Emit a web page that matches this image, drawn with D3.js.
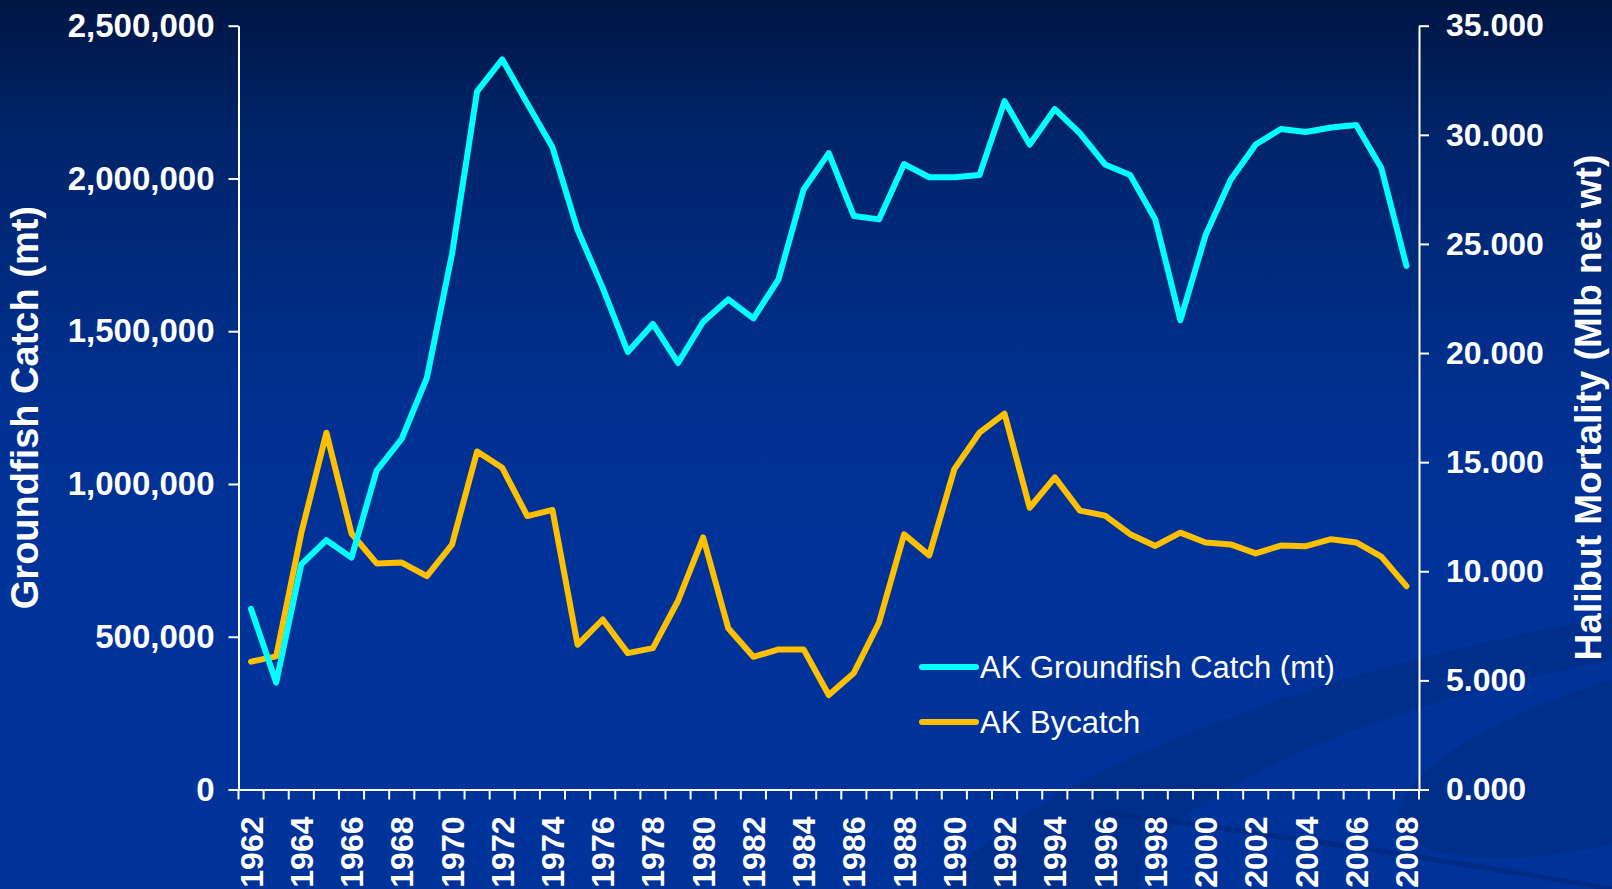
<!DOCTYPE html>
<html>
<head>
<meta charset="utf-8">
<script src="https://cdn.jsdelivr.net/npm/d3@7"></script>
<style>
  html, body { margin: 0; padding: 0; background: #003399; }
  svg { display: block; font-family: "Liberation Sans", Arial, sans-serif; }
</style>
</head>
<body>
<div id="chart"></div>
<script>
// years on the category axis
var years = [1962, 1963, 1964, 1965, 1966, 1967, 1968, 1969, 1970, 1971,
  1972, 1973, 1974, 1975, 1976, 1977, 1978, 1979, 1980, 1981,
  1982, 1983, 1984, 1985, 1986, 1987, 1988, 1989, 1990, 1991,
  1992, 1993, 1994, 1995, 1996, 1997, 1998, 1999, 2000, 2001,
  2002, 2003, 2004, 2005, 2006, 2007, 2008];

// AK Groundfish Catch (mt) - left axis
var groundfishCatch = [591000, 350000, 737000, 816000, 759000, 1044000, 1148000, 1347000, 1752000, 2285000,
  2390000, 2245000, 2102000, 1832000, 1642000, 1432000, 1524000, 1396000, 1531000, 1604000,
  1542000, 1670000, 1964000, 2083000, 1877000, 1866000, 2047000, 2004000, 2004000, 2011000,
  2253000, 2111000, 2227000, 2148000, 2046000, 2011000, 1866000, 1536000, 1814000, 1996000,
  2111000, 2162000, 2152000, 2167000, 2175000, 2034000, 1714000];

// AK Bycatch, halibut mortality (Mlb net wt) - right axis
var bycatch = [5.86, 6.10, 11.75, 16.35, 11.73, 10.36, 10.40, 9.78, 11.22, 15.49,
  14.74, 12.53, 12.81, 6.63, 7.79, 6.25, 6.48, 8.65, 11.55, 7.39,
  6.08, 6.42, 6.42, 4.33, 5.34, 7.64, 11.69, 10.73, 14.68, 16.35,
  17.22, 12.91, 14.30, 12.78, 12.55, 11.70, 11.16, 11.77, 11.32, 11.23,
  10.82, 11.18, 11.15, 11.47, 11.32, 10.67, 9.32];

var leftTicks = [0, 500000, 1000000, 1500000, 2000000, 2500000];
var rightTicks = [0, 5, 10, 15, 20, 25, 30, 35];
var seriesNames = ["AK Groundfish Catch (mt)", "AK Bycatch"];

var W = 1612, H = 889;
var margin = {top: 25.7, right: 193, bottom: 99.5, left: 238.5};
var innerW = W - margin.left - margin.right;
var innerH = H - margin.top - margin.bottom;

var svg = d3.select("#chart").append("svg")
  .attr("width", W)
  .attr("height", H);

// background: dark navy at the top fading into slide blue
var defs = svg.append("defs");
var grad = defs.append("linearGradient")
  .attr("id", "bg").attr("x1", 0).attr("y1", 0).attr("x2", 0).attr("y2", 1);
grad.append("stop").attr("offset", "0%").attr("stop-color", "#001644");
grad.append("stop").attr("offset", "15%").attr("stop-color", "#00246a");
grad.append("stop").attr("offset", "45%").attr("stop-color", "#003090");
grad.append("stop").attr("offset", "65%").attr("stop-color", "#003399");
grad.append("stop").attr("offset", "100%").attr("stop-color", "#003399");

svg.append("rect").attr("width", W).attr("height", H).attr("fill", "url(#bg)");

// faint swoosh in the lower right
var swoosh = svg.append("g");
swoosh.append("ellipse")
  .attr("cx", 1560).attr("cy", 800).attr("rx", 640).attr("ry", 170)
  .attr("transform", "rotate(-12 1560 800)")
  .attr("fill", "#00297f").attr("opacity", 0.55);
swoosh.append("ellipse")
  .attr("cx", 1600).attr("cy", 790).attr("rx", 470).attr("ry", 125)
  .attr("transform", "rotate(-12 1600 790)")
  .attr("fill", "#003399");
swoosh.append("ellipse")
  .attr("cx", 1640).attr("cy", 755).attr("rx", 250).attr("ry", 80)
  .attr("transform", "rotate(-16 1640 755)")
  .attr("fill", "#00297f").attr("opacity", 0.55);
swoosh.append("path")
  .attr("d", "M1100,812 Q1360,845 1612,889")
  .attr("fill", "none").attr("stroke", "#00297f").attr("stroke-width", 5).attr("opacity", 0.8);

var g = svg.append("g").attr("transform", "translate(" + margin.left + "," + margin.top + ")");

var x = d3.scaleBand().domain(years).range([0, innerW]);
var yL = d3.scaleLinear().domain([0, 2500000]).range([innerH, 0]);
var yR = d3.scaleLinear().domain([0, 35]).range([innerH, 0]);

var white = "#ffffff";

// left axis
var leftAxis = g.append("g")
  .call(d3.axisLeft(yL).tickValues(leftTicks).tickFormat(d3.format(",")).tickSize(10).tickSizeOuter(0));
leftAxis.selectAll("text")
  .attr("fill", white).attr("font-size", 33).attr("font-weight", "bold").attr("x", -24);

// right axis
var rightAxis = g.append("g")
  .attr("transform", "translate(" + innerW + ",0)")
  .call(d3.axisRight(yR).tickValues(rightTicks).tickFormat(d3.format(".3f")).tickSize(10).tickSizeOuter(0));
rightAxis.selectAll("text")
  .attr("fill", white).attr("font-size", 32).attr("font-weight", "bold").attr("x", 27);

// bottom axis: ticks at year boundaries, labels every other year
var bottomAxis = g.append("g")
  .attr("transform", "translate(0," + innerH + ")")
  .call(d3.axisBottom(x).tickSize(10).tickSizeOuter(0).tickFormat(function(d) { return d % 2 === 0 ? d : ""; }));
bottomAxis.selectAll(".tick line")
  .attr("x1", -x.bandwidth() / 2).attr("x2", -x.bandwidth() / 2);
bottomAxis.append("line")
  .attr("x1", innerW).attr("x2", innerW).attr("y1", 0).attr("y2", 10)
  .attr("stroke", white);
bottomAxis.selectAll("text")
  .attr("fill", white).attr("font-size", 32).attr("font-weight", "bold")
  .attr("text-anchor", "end")
  .attr("transform", "translate(0,27) rotate(-90)")
  .attr("x", 0).attr("y", 0).attr("dy", "0.36em");

[leftAxis, rightAxis, bottomAxis].forEach(function(a) {
  a.selectAll("path, line").attr("stroke", white).attr("stroke-width", 2);
});

// series lines
var catchLine = d3.line()
  .x(function(d, i) { return x(years[i]) + x.bandwidth() / 2; })
  .y(function(d) { return yL(d); });
var bycatchLine = d3.line()
  .x(function(d, i) { return x(years[i]) + x.bandwidth() / 2; })
  .y(function(d) { return yR(d); });

g.append("path").datum(bycatch)
  .attr("d", bycatchLine)
  .attr("fill", "none").attr("stroke", "#ffc000").attr("stroke-width", 6)
  .attr("stroke-linecap", "round").attr("stroke-linejoin", "round");

g.append("path").datum(groundfishCatch)
  .attr("d", catchLine)
  .attr("fill", "none").attr("stroke", "#00ffff").attr("stroke-width", 6)
  .attr("stroke-linecap", "round").attr("stroke-linejoin", "round");

// axis titles
svg.append("text")
  .attr("transform", "translate(38," + (margin.top + innerH / 2) + ") rotate(-90)")
  .attr("text-anchor", "middle")
  .attr("fill", white).attr("font-size", 38).attr("font-weight", "bold")
  .text("Groundfish Catch (mt)");

svg.append("text")
  .attr("transform", "translate(1601," + (margin.top + innerH / 2) + ") rotate(-90)")
  .attr("text-anchor", "middle")
  .attr("fill", white).attr("font-size", 37).attr("font-weight", "bold")
  .text("Halibut Mortality (Mlb net wt)");

// legend
var legendColors = ["#00ffff", "#ffc000"];
var legend = svg.append("g").attr("transform", "translate(920,667)");
seriesNames.forEach(function(name, i) {
  var row = legend.append("g").attr("transform", "translate(0," + (i * 55) + ")");
  row.append("line")
    .attr("x1", 2).attr("x2", 56).attr("y1", 0).attr("y2", 0)
    .attr("stroke", legendColors[i]).attr("stroke-width", 6).attr("stroke-linecap", "round");
  row.append("text")
    .attr("x", 60).attr("dy", "0.36em")
    .attr("fill", white).attr("font-size", 31)
    .text(name);
});
</script>
</body>
</html>
